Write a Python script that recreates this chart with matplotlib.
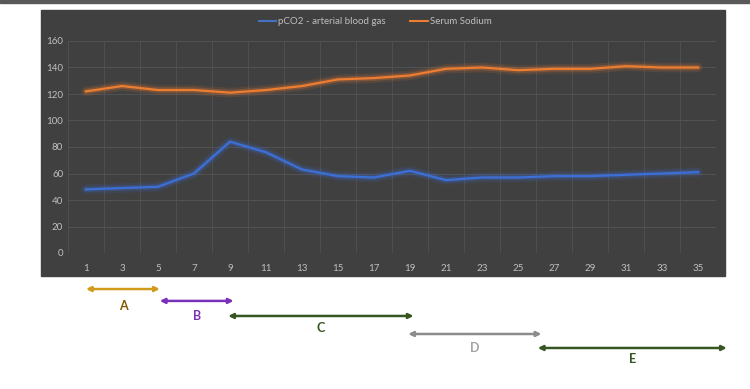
import numpy as np
import matplotlib.pyplot as plt
from matplotlib.patches import Rectangle
from matplotlib.lines import Line2D

plt.rcParams['font.family'] = ['Lato', 'DejaVu Sans']

dias = ['1', '3', '5', '7', '9', '11', '13', '15', '17', '19', '21', '23', '25', '27', '29', '31', '33', '35']
pco2 = [48, 49, 50, 60, 84, 76, 63, 58, 57, 62, 55, 57, 57, 58, 58, 59, 60, 61]
sodio = [122, 126, 123, 123, 121, 123, 126, 131, 132, 134, 139, 140, 138, 139, 139, 141, 140, 140]

# fases (inicio, fin en indice de categoria), etiqueta, color flecha, color texto
fases = ['A', 'B', 'C', 'D', 'E']
inicio = [0.0, 2.05, 3.95, 8.95, 12.55]
fin = [2.05, 4.1, 9.1, 12.65, 17.8]
col_flecha = ['#D09A1A', '#7A30B8', '#375623', '#8C8C8C', '#375623']
col_texto = ['#7F5A00', '#7A30B8', '#375623', '#A6A6A6', '#375623']

fig = plt.figure(figsize=(7.5, 3.89), dpi=100)
fig.patch.set_facecolor('white')
# barra gris superior y fondo oscuro del grafico
fig.patches.append(Rectangle((0, 1 - 3 / 389), 1, 3 / 389, transform=fig.transFigure,
                             color='#595959', zorder=-5))
fig.patches.append(Rectangle((41 / 750, 1 - 276 / 389), 684 / 750, 266 / 389,
                             transform=fig.transFigure, color='#404040', zorder=-5))

ax = fig.add_axes([68 / 750, 1 - 253 / 389, 648 / 750, 212 / 389])
ax.set_facecolor('none')
ax.set_zorder(2)

x = np.arange(len(dias))
for serie, c in [(pco2, '#3C6FD8'), (sodio, '#ED7D31')]:
    ax.plot(x, serie, color=c, lw=7, alpha=0.12, solid_capstyle='round', zorder=2)
    ax.plot(x, serie, color=c, lw=4, alpha=0.25, solid_capstyle='round', zorder=2)
    ax.plot(x, serie, color=c, lw=1.6, zorder=3)

ax.set_xlim(-0.5, len(dias) - 0.5)
ax.set_ylim(0, 160)
ax.set_yticks(range(0, 161, 20))
ax.set_xticks(x)
ax.set_xticklabels(dias)
ax.set_xticks(np.arange(-0.5, len(dias), 1), minor=True)
ax.grid(True, which='major', axis='y', color='#515151', lw=0.8)
ax.grid(True, which='minor', axis='x', color='#4E4E4E', lw=0.8)
ax.tick_params(which='both', length=0, colors='#BFBFBF', labelsize=7)
ax.tick_params(axis='x', pad=8)
for s in ax.spines.values():
    s.set_visible(False)

handles = [Line2D([], [], color='#4472C4', lw=1.5), Line2D([], [], color='#ED7D31', lw=1.5)]
fig.legend(handles, ['pCO2 - arterial blood gas', 'Serum Sodium'], loc='center',
           bbox_to_anchor=(0.5, 1 - 22 / 389), ncol=2, frameon=False, fontsize=7,
           labelcolor='#BFBFBF', handlelength=1.8, handletextpad=0.2, columnspacing=2.5)

# flechas de fases
y_flecha = [-0.170, -0.226, -0.297, -0.382, -0.448]
y_texto = [-0.250, -0.297, -0.354, -0.448, -0.500]
for i, f in enumerate(fases):
    ax.annotate('', xy=(fin[i], y_flecha[i]), xytext=(inicio[i], y_flecha[i]),
                xycoords=('data', 'axes fraction'), annotation_clip=False,
                arrowprops=dict(arrowstyle='<|-|>', color=col_flecha[i], lw=1.8,
                                mutation_scale=7, shrinkA=0, shrinkB=0))
    ax.text((inicio[i] + fin[i]) / 2, y_texto[i], f, transform=ax.get_xaxis_transform(),
            ha='center', va='center', color=col_texto[i], fontsize=9, fontweight='bold')

fig.savefig('out.png', dpi=100)
